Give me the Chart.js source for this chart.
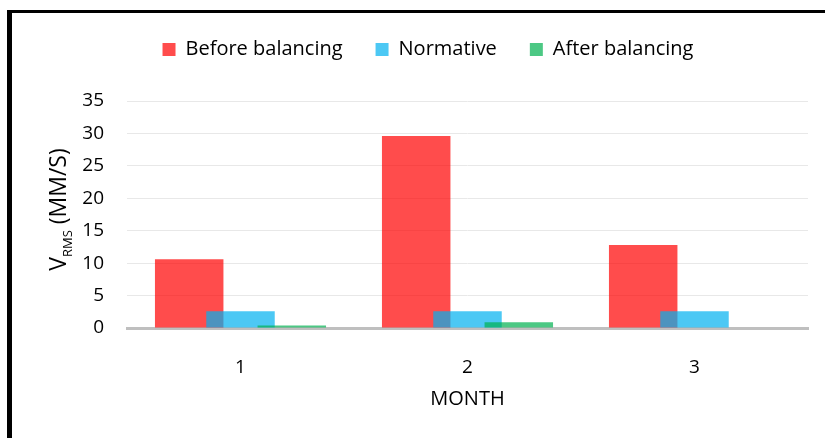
<!DOCTYPE html>
<html>
<head>
<meta charset="utf-8">
<script src="https://cdn.jsdelivr.net/npm/chart.js@4.4.0/dist/chart.umd.min.js"></script>
<style>
  body { margin: 0; background: #fff; }
  #frame {
    position: absolute; left: 7px; top: 10px;
    width: 813px; height: 425px;
    border-left: 5px solid #000; border-top: 3px solid #000;
  }
</style>
</head>
<body>
<div id="frame"><canvas id="chart" width="813" height="425"></canvas></div>
<script>
const months = ["1", "2", "3"];
const beforeBalancing = [10.6, 29.6, 12.8];
const normative = [2.6, 2.6, 2.6];
const afterBalancing = [0.4, 0.9, 0];
const yTitleMain = "V";
const yTitleSub = "RMS";
const yTitleRest = " (MM/S)";

const FONT = "'Open Sans', 'Noto Sans', sans-serif";

// fixed legend height so the plot area lands where it should
const legendHeight = {
  id: "legendHeight",
  beforeInit(chart) {
    const fit = chart.legend.fit;
    chart.legend.fit = function () {
      fit.bind(chart.legend)();
      this.height = 94.5;
    };
  },
};

// draw series in index order so later bars sit on top of earlier ones
const drawForward = {
  id: "drawForward",
  beforeDatasetsDraw(chart) {
    for (let i = 0; i < chart.data.datasets.length; i++) {
      chart.getDatasetMeta(i).controller.draw();
    }
    return false;
  },
};

// y title with subscript, drawn rotated left of the ticks
const yTitle = {
  id: "yTitle",
  afterDraw(chart) {
    const ctx = chart.ctx;
    const area = chart.chartArea;
    const big = "23px " + FONT;
    const small = "13px " + FONT;
    ctx.save();
    ctx.font = big;
    const w1 = ctx.measureText(yTitleMain).width;
    const w3 = ctx.measureText(yTitleRest).width;
    ctx.font = small;
    const w2 = ctx.measureText(yTitleSub).width;
    const total = w1 + w2 + w3;
    ctx.translate(50, (area.top + area.bottom) / 2 - 5);
    ctx.rotate(-Math.PI / 2);
    ctx.fillStyle = "#000";
    ctx.textBaseline = "alphabetic";
    let x = -total / 2;
    ctx.font = big;
    ctx.fillText(yTitleMain, x, 4);
    x += w1;
    ctx.font = small;
    ctx.fillText(yTitleSub, x, 10);
    x += w2;
    ctx.font = big;
    ctx.fillText(yTitleRest, x, 4);
    ctx.restore();
  },
};

new Chart(document.getElementById("chart"), {
  type: "bar",
  data: {
    labels: months,
    datasets: [
      { label: "Before balancing", data: beforeBalancing, backgroundColor: "rgba(255,0,0,0.7)" },
      { label: "Normative", data: normative, backgroundColor: "rgba(0,176,240,0.7)" },
      { label: "After balancing", data: afterBalancing, backgroundColor: "rgba(0,176,80,0.7)" },
    ],
  },
  options: {
    responsive: false,
    animation: false,
    categoryPercentage: 0.678,
    barPercentage: 1.335,
    layout: { padding: { top: -6.5, left: 36, right: 17, bottom: 0 } },
    plugins: {
      legend: {
        position: "top",
        labels: {
          boxWidth: 13,
          boxHeight: 13,
          padding: 33,
          color: "#000",
          font: { family: FONT, size: 20 },
        },
      },
      tooltip: { enabled: false },
    },
    scales: {
      x: {
        grid: { display: false },
        border: { display: true, color: "#bfbfbf", width: 3 },
        ticks: { color: "#000", padding: 20, font: { family: FONT, size: 19 } },
        title: {
          display: true,
          text: "MONTH",
          color: "#000",
          font: { family: FONT, size: 20 },
          padding: { top: 0, bottom: 27 },
        },
        afterFit(scale) { scale.height = 110; },
      },
      y: {
        min: 0,
        max: 35,
        ticks: { stepSize: 5, color: "#000", padding: 23, font: { family: FONT, size: 19 } },
        grid: {
          drawTicks: false,
          color: (c) => (c.tick && c.tick.value === 0 ? "rgba(0,0,0,0)" : "#e8e8e8"),
          lineWidth: 1,
        },
        border: { display: false },
        afterFit(scale) { scale.width = 79; },
      },
    },
  },
  plugins: [legendHeight, drawForward, yTitle],
});
</script>
</body>
</html>
